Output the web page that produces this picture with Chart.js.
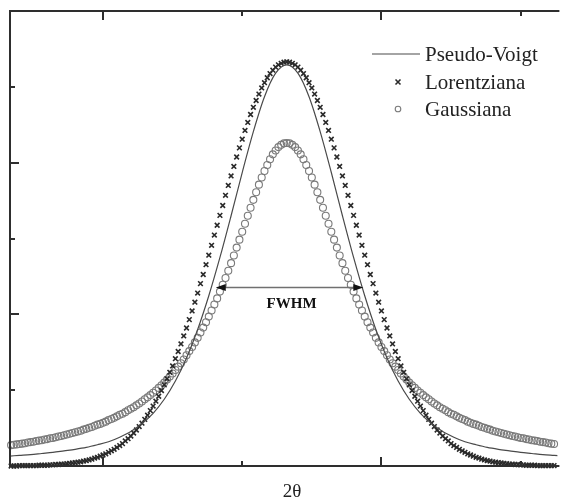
<!DOCTYPE html>
<html>
<head>
<meta charset="utf-8">
<title>Perfis de pico</title>
<script src="https://cdn.jsdelivr.net/npm/chart.js@4.4.1/dist/chart.umd.min.js"></script>
<style>
	html, body { margin: 0; padding: 0; background: #ffffff; overflow: hidden; }
	canvas { display: block; }
</style>
</head>
<body>
<canvas id="peakChart" width="563" height="501"></canvas>
<script>
// 2θ sampling grid of the marker series (degrees)
const twoTheta = [
	16.7, 16.8, 16.9,
	17.0, 17.1, 17.2, 17.3, 17.4, 17.5, 17.6, 17.7, 17.8, 17.9,
	18.0, 18.1, 18.2, 18.3, 18.4, 18.5, 18.6, 18.7, 18.8, 18.9,
	19.0, 19.1, 19.2, 19.3, 19.4, 19.5, 19.6, 19.7, 19.8, 19.9,
	20.0, 20.1, 20.2, 20.3, 20.4, 20.5, 20.6, 20.7, 20.8, 20.9,
	21.0, 21.1, 21.2, 21.3, 21.4, 21.5, 21.6, 21.7, 21.8, 21.9,
	22.0, 22.1, 22.2, 22.3, 22.4, 22.5, 22.6, 22.7, 22.8, 22.9,
	23.0, 23.1, 23.2, 23.3, 23.4, 23.5, 23.6, 23.7, 23.8, 23.9,
	24.0, 24.1, 24.2, 24.3, 24.4, 24.5, 24.6, 24.7, 24.8, 24.9,
	25.0, 25.1, 25.2, 25.3, 25.4, 25.5, 25.6, 25.7, 25.8, 25.9,
	26.0, 26.1, 26.2, 26.3, 26.4, 26.5, 26.6, 26.7, 26.8, 26.9,
	27.0, 27.1, 27.2, 27.3, 27.4, 27.5, 27.6, 27.7, 27.8, 27.9,
	28.0, 28.1, 28.2, 28.3, 28.4, 28.5, 28.6, 28.7, 28.8, 28.9,
	29.0, 29.1, 29.2, 29.3, 29.4, 29.5, 29.6, 29.7, 29.8, 29.9,
	30.0, 30.1, 30.2, 30.3, 30.4, 30.5, 30.6, 30.7, 30.8, 30.9,
	31.0, 31.1, 31.2, 31.3, 31.4, 31.5, 31.6, 31.7, 31.8, 31.9,
	32.0, 32.1, 32.2, 32.3, 32.4, 32.5, 32.6, 32.7, 32.8, 32.9,
	33.0, 33.1, 33.2, 33.3, 33.4, 33.5, 33.6, 33.7, 33.8, 33.9,
	34.0, 34.1, 34.2, 34.3, 34.4, 34.5, 34.6, 34.7, 34.8, 34.9,
	35.0, 35.1, 35.2, 35.3, 35.4, 35.5, 35.6, 35.7, 35.8, 35.9,
	36.0, 36.1, 36.2
];

// intensity of the "Lorentziana" profile (x markers)
const lorentzCounts = [
	0, 0, 0, 1, 1, 1, 1, 1, 1, 1,
	2, 2, 2, 2, 3, 3, 4, 4, 5, 5,
	6, 7, 8, 9, 10, 11, 13, 14, 16, 18,
	21, 23, 26, 29, 32, 36, 40, 44, 49, 54,
	59, 66, 72, 79, 87, 95, 104, 113, 123, 134,
	146, 158, 171, 184, 199, 214, 230, 247, 264, 283,
	302, 322, 343, 364, 386, 409, 432, 456, 481, 505,
	531, 556, 582, 609, 635, 661, 687, 714, 740, 765,
	790, 815, 839, 862, 885, 906, 927, 946, 964, 981,
	997, 1011, 1024, 1035, 1044, 1052, 1058, 1062, 1065,
	1066,
	1065, 1062, 1058, 1052, 1044, 1035, 1024, 1011, 997,
	981, 964, 946, 927, 906, 885, 862, 839, 815, 790,
	765, 740, 714, 687, 661, 635, 609, 582, 556, 531,
	505, 481, 456, 432, 409, 386, 364, 343, 322, 302,
	283, 264, 247, 230, 214, 199, 184, 171, 158, 146,
	134, 123, 113, 104, 95, 87, 79, 72, 66, 59,
	54, 49, 44, 40, 36, 32, 29, 26, 23, 21,
	18, 16, 14, 13, 11, 10, 9, 8, 7, 6,
	5, 5, 4, 4, 3, 3, 2, 2, 2, 2,
	1, 1, 1, 1, 1, 1, 1
];

// intensity of the "Gaussiana" profile (open circles)
const gaussCounts = [
	55, 56, 57, 58, 59, 60, 62, 63, 64, 66,
	67, 68, 70, 71, 73, 74, 76, 78, 79, 81,
	83, 85, 87, 89, 91, 93, 96, 98, 101, 103,
	106, 109, 111, 114, 117, 121, 124, 127, 131, 135,
	138, 142, 147, 151, 155, 160, 165, 170, 176, 181,
	187, 193, 199, 206, 213, 220, 228, 236, 244, 253,
	262, 271, 281, 292, 303, 314, 326, 338, 352, 365,
	379, 394, 410, 426, 442, 460, 478, 496, 515, 535,
	555, 576, 597, 618, 639, 660, 681, 702, 722, 742,
	761, 778, 794, 809, 822, 832, 841, 847, 851,
	852,
	851, 847, 841, 832, 822, 809, 794, 778, 761,
	742, 722, 702, 681, 660, 639, 618, 597, 576, 555,
	535, 515, 496, 478, 460, 442, 426, 410, 394, 379,
	365, 352, 338, 326, 314, 303, 292, 281, 271, 262,
	253, 244, 236, 228, 220, 213, 206, 199, 193, 187,
	181, 176, 170, 165, 160, 155, 151, 147, 142, 138,
	135, 131, 127, 124, 121, 117, 114, 111, 109, 106,
	103, 101, 98, 96, 93, 91, 89, 87, 85, 83,
	81, 79, 78, 76, 74, 73, 71, 70, 68, 67,
	66, 64, 63, 62, 60, 59, 58
];

// Pseudo-Voigt curve, coarser grid (drawn as a smooth line)
const voigtTheta = [
	16.6, 17.0, 17.4, 17.8, 18.2, 18.6, 19.0, 19.4, 19.8, 20.2,
	20.6, 21.0, 21.4, 21.8, 22.2, 22.6, 23.0, 23.4, 23.8, 24.2,
	24.6, 25.0, 25.4, 25.8, 26.2, 26.6, 27.0, 27.4, 27.8, 28.2,
	28.6, 29.0, 29.4, 29.8, 30.2, 30.6, 31.0, 31.4, 31.8, 32.2,
	32.6, 33.0, 33.4, 33.8, 34.2, 34.6, 35.0, 35.4, 35.8, 36.2,
	36.6
];
const voigtCounts = [
	26, 28, 30, 33, 36, 40, 44, 49, 56, 64,
	76, 91, 112, 139, 176, 224, 285, 360, 449, 550,
	660, 774, 882, 974, 1036, 1058, 1036, 974, 882, 774,
	660, 550, 449, 360, 285, 224, 176, 139, 112, 91,
	76, 64, 56, 49, 44, 40, 36, 33, 30, 28,
	26
];

const seriesLabels = ['Pseudo-Voigt', 'Lorentziana', 'Gaussiana'];

// axis ticks (no tick labels, only marks pointing inward)
const xTicks = [20, 25, 30, 35];
const xMajorTicks = [20, 30];
const yTicks = [200, 400, 600, 800, 1000];
const yMajorTicks = [400, 800];
const xTitle = '2θ';

// FWHM arrow: 2θ limits and the intensity it is drawn at
const fwhmSpan = [24.05, 29.35];
const fwhmLevel = 472;
const fwhmText = 'FWHM';

const serif = '"Liberation Serif", "Times New Roman", serif';
const axisColor = '#2e2e2e';

const toPoints = (xs, ys) => xs.map((x, i) => ({ x: x, y: ys[i] }));

function drawMarker(ctx, style, radius, x, y) {
	ctx.beginPath();
	if (style === 'crossRot') {
		ctx.moveTo(x - radius, y - radius);
		ctx.lineTo(x + radius, y + radius);
		ctx.moveTo(x + radius, y - radius);
		ctx.lineTo(x - radius, y + radius);
	} else {
		ctx.arc(x, y, radius, 0, Math.PI * 2);
	}
	ctx.stroke();
}

// frame, inward ticks, x title, legend and the FWHM arrow
const decorations = {
	id: 'decorations',
	afterDatasetsDraw(chart) {
		const { ctx, chartArea, scales } = chart;
		const { left, top, right, bottom } = chartArea;
		const x = scales.x;
		const y = scales.y;
		ctx.save();

		// frame (open on the right side)
		ctx.strokeStyle = axisColor;
		ctx.lineWidth = 2;
		ctx.beginPath();
		ctx.moveTo(right + 2, top);
		ctx.lineTo(left, top);
		ctx.lineTo(left, bottom);
		ctx.lineTo(right + 2, bottom);
		ctx.stroke();

		ctx.beginPath();
		xTicks.forEach(v => {
			const px = Math.round(x.getPixelForValue(v));
			const len = xMajorTicks.includes(v) ? 9 : 5;
			ctx.moveTo(px, bottom);
			ctx.lineTo(px, bottom - len);
			ctx.moveTo(px, top);
			ctx.lineTo(px, top + len);
		});
		yTicks.forEach(v => {
			const py = Math.round(y.getPixelForValue(v));
			const len = yMajorTicks.includes(v) ? 9 : 5;
			ctx.moveTo(left, py);
			ctx.lineTo(left + len, py);
		});
		ctx.stroke();

		// x axis title
		ctx.fillStyle = '#222';
		ctx.font = '19px ' + serif;
		ctx.textAlign = 'center';
		ctx.textBaseline = 'middle';
		ctx.fillText(xTitle, 292, 492);

		// FWHM arrow
		const ay = Math.round(y.getPixelForValue(fwhmLevel)) + 0.5;
		const ax1 = x.getPixelForValue(fwhmSpan[0]);
		const ax2 = x.getPixelForValue(fwhmSpan[1]);
		ctx.strokeStyle = '#707070';
		ctx.lineWidth = 1.5;
		ctx.beginPath();
		ctx.moveTo(ax1 + 6, ay);
		ctx.lineTo(ax2 - 6, ay);
		ctx.stroke();
		ctx.fillStyle = '#111';
		ctx.beginPath();
		ctx.moveTo(ax1, ay);
		ctx.lineTo(ax1 + 10, ay - 3.5);
		ctx.lineTo(ax1 + 10, ay + 3.5);
		ctx.closePath();
		ctx.moveTo(ax2, ay);
		ctx.lineTo(ax2 - 10, ay - 3.5);
		ctx.lineTo(ax2 - 10, ay + 3.5);
		ctx.closePath();
		ctx.fill();
		ctx.font = 'bold 15px ' + serif;
		ctx.fillText(fwhmText, (ax1 + ax2) / 2 + 2, ay + 17);

		// legend
		const sets = chart.data.datasets;
		const rows = [54, 82, 109];
		ctx.font = '21px ' + serif;
		ctx.textAlign = 'left';
		ctx.fillStyle = '#222';
		sets.forEach((ds, i) => {
			const ry = rows[i];
			if (i === 0) {
				ctx.strokeStyle = ds.borderColor;
				ctx.lineWidth = ds.borderWidth;
				ctx.beginPath();
				ctx.moveTo(372, ry);
				ctx.lineTo(420, ry);
				ctx.stroke();
			} else {
				ctx.strokeStyle = ds.pointBorderColor;
				ctx.lineWidth = ds.pointBorderWidth;
				drawMarker(ctx, ds.pointStyle, ds.pointStyle === 'crossRot' ? 2.5 : 2.8, 398, ry);
			}
			ctx.fillText(ds.label, 425, ry + 1);
		});

		ctx.restore();
	}
};

const chart = new Chart(document.getElementById('peakChart'), {
	type: 'line',
	data: {
		datasets: [{
			label: seriesLabels[0],
			data: toPoints(voigtTheta, voigtCounts),
			borderColor: '#4a4a4a',
			borderWidth: 1.2,
			pointRadius: 0,
			cubicInterpolationMode: 'monotone',
			fill: false
		}, {
			label: seriesLabels[1],
			data: toPoints(twoTheta, lorentzCounts),
			showLine: false,
			pointStyle: 'crossRot',
			pointRadius: 3.3,
			pointBorderColor: '#2a2a2a',
			pointBackgroundColor: '#2a2a2a',
			pointBorderWidth: 1.6,
			clip: false
		}, {
			label: seriesLabels[2],
			data: toPoints(twoTheta, gaussCounts),
			showLine: false,
			pointStyle: 'circle',
			pointRadius: 3.5,
			pointBorderColor: '#7a7a7a',
			pointBackgroundColor: 'rgba(255, 255, 255, 0)',
			pointBorderWidth: 1.1,
			clip: false
		}]
	},
	options: {
		responsive: false,
		animation: false,
		devicePixelRatio: 1,
		layout: {
			padding: { left: 10, top: 11, right: 0, bottom: 35 }
		},
		plugins: {
			legend: { display: false },
			tooltip: { enabled: false }
		},
		scales: {
			x: { type: 'linear', min: 16.66, max: 36.32, display: false },
			y: { type: 'linear', min: 0, max: 1200, display: false }
		}
	},
	plugins: [decorations]
});
</script>
</body>
</html>
